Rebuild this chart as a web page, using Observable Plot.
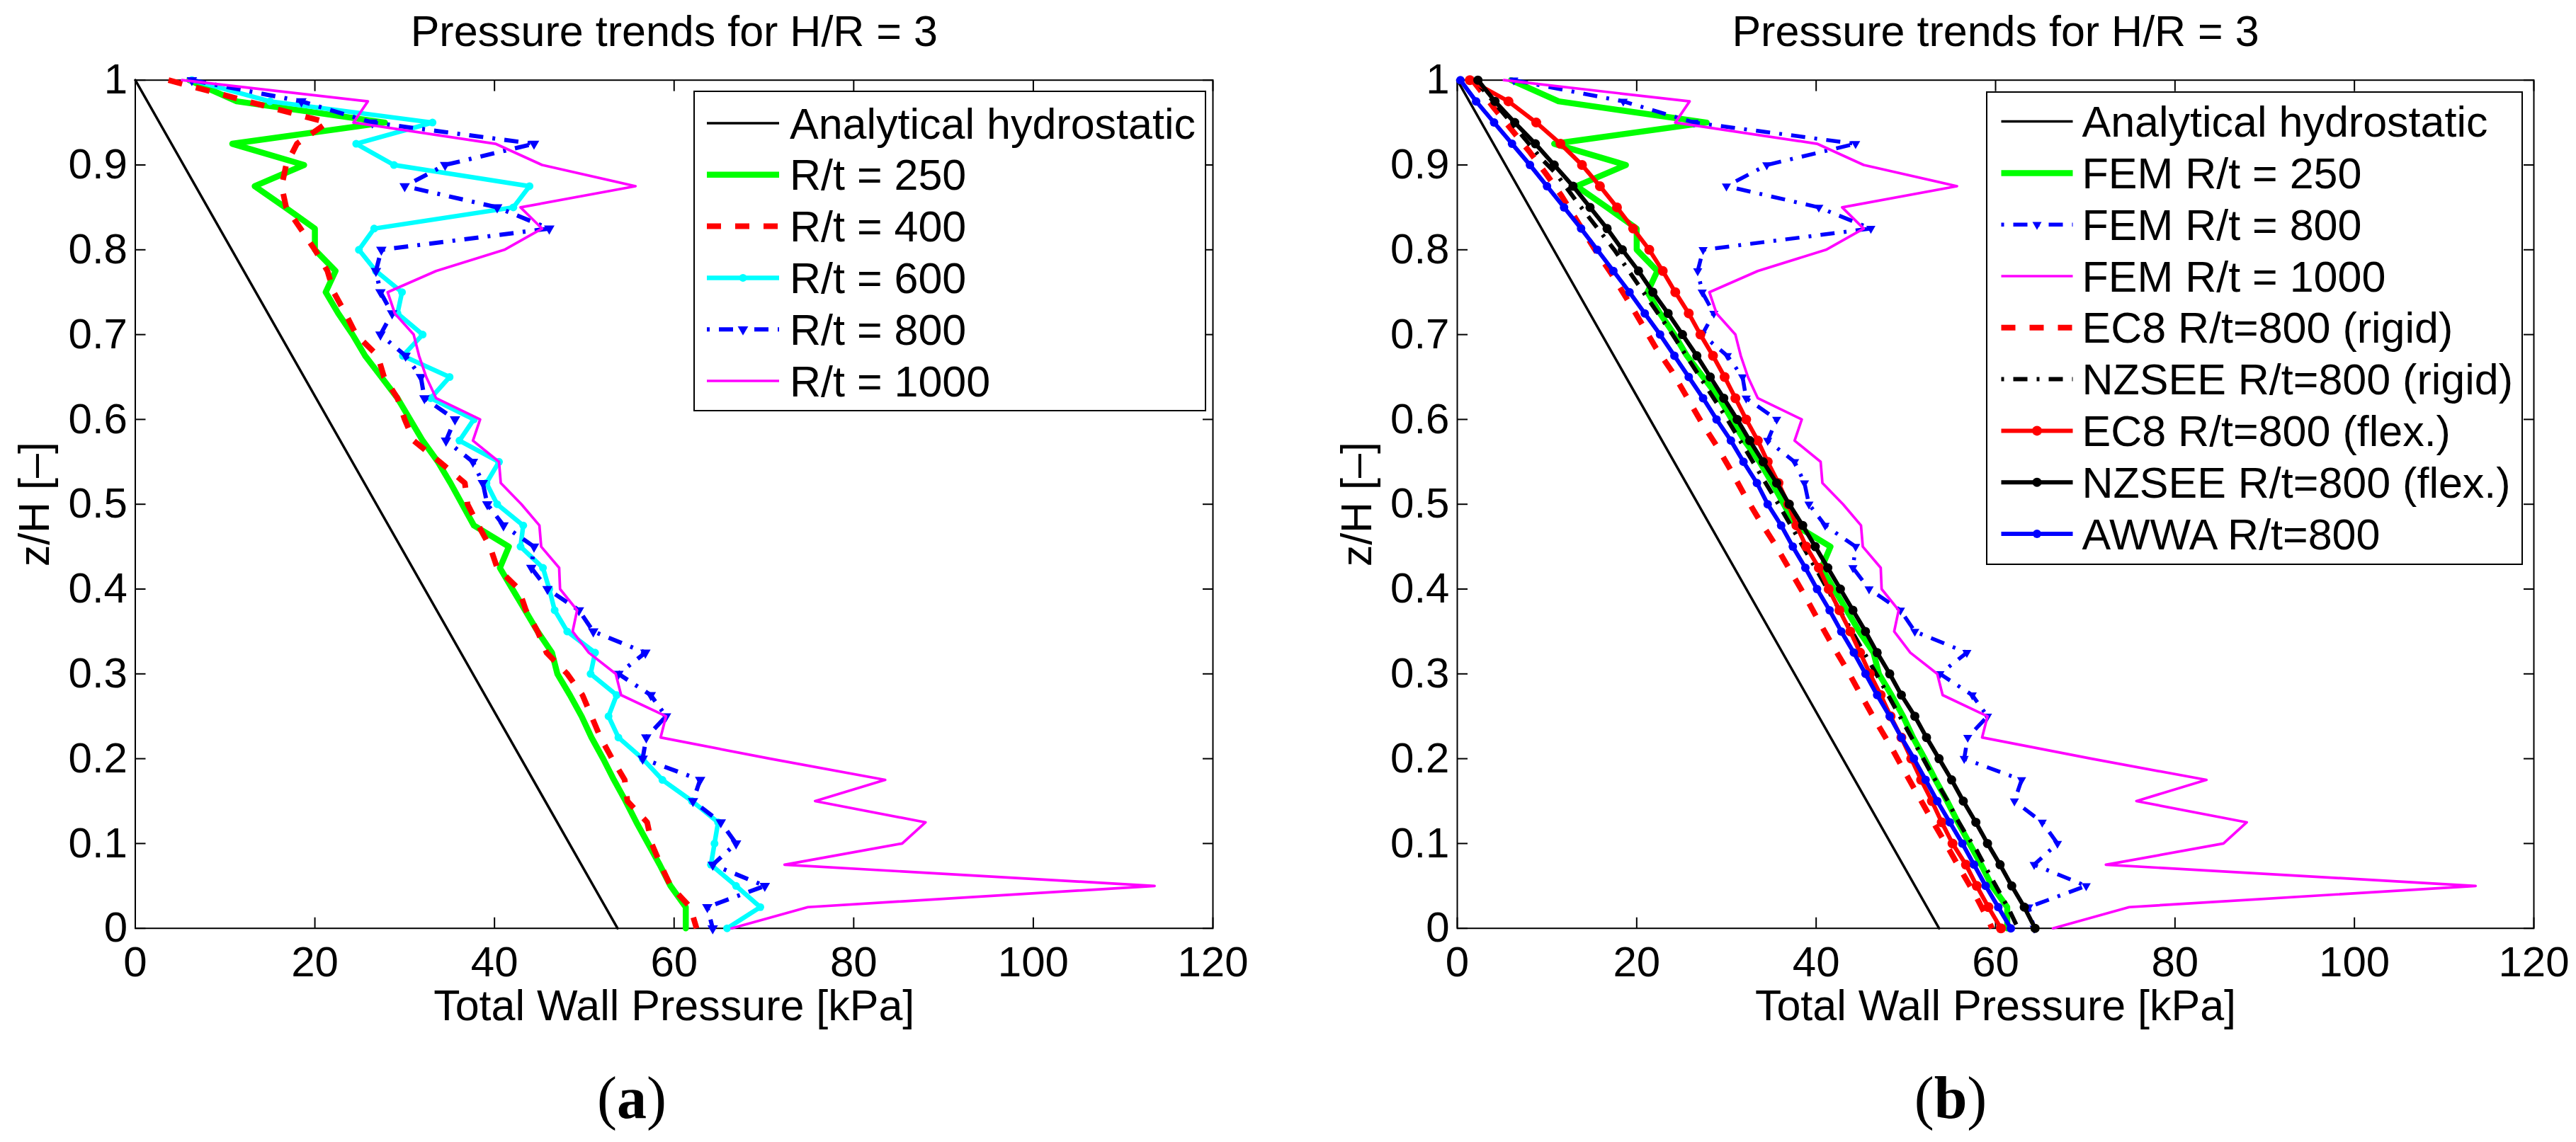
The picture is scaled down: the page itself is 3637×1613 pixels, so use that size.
<!DOCTYPE html>
<html><head><meta charset="utf-8">
<script src="https://cdn.jsdelivr.net/npm/d3@7"></script>
<script src="https://cdn.jsdelivr.net/npm/@observablehq/plot@0.6"></script>
<style>
html,body{margin:0;padding:0;background:#fff;}
#wrap{position:relative;width:3637px;height:1613px;overflow:hidden;background:#fff;}
#wrap svg{position:absolute;top:0;}
</style></head><body><div id="wrap"></div>
<script>
const FONT = '"Liberation Sans", Arial, Helvetica, sans-serif';
const SERIF = '"Liberation Serif", "Times New Roman", serif';

// ---- axes / ticks ----
const xTicks = [0, 20, 40, 60, 80, 100, 120];
const xTickLabels = ["0", "20", "40", "60", "80", "100", "120"];
const yTicks = [0, 0.1, 0.2, 0.3, 0.4, 0.5, 0.6, 0.7, 0.8, 0.9, 1];
const yTickLabels = ["0", "0.1", "0.2", "0.3", "0.4", "0.5", "0.6", "0.7", "0.8", "0.9", "1"];
const titleText = "Pressure trends for H/R = 3";
const xLabelText = "Total Wall Pressure [kPa]";
const yLabelText = "z/H [–]";

// ---- data: z/H levels (top to bottom) ----
const zLevels = [1, 0.975, 0.95, 0.925, 0.9, 0.875, 0.85, 0.825, 0.8, 0.775, 0.75, 0.725, 0.7, 0.675, 0.65, 0.625, 0.6, 0.575, 0.55, 0.525, 0.5,
  0.475, 0.45, 0.425, 0.4, 0.375, 0.35, 0.325, 0.3, 0.275, 0.25, 0.225, 0.2, 0.175, 0.15, 0.125, 0.1, 0.075, 0.05, 0.025, 0];

// analytical hydrostatic
const hydroZ = [1, 0];
const hydroP = [0, 53.7];

// FEM results (kPa) at zLevels
const fem250 = [6.0, 11.3, 27.8, 10.8, 18.8, 13.3, 16.7, 20.0, 20.0, 22.3, 21.2, 22.6, 24.2, 25.6, 27.4, 29.2, 30.6, 32.0, 33.7, 35.1, 36.4,
  37.7, 41.6, 40.6, 42.0, 43.4, 44.8, 46.4, 47.0, 48.4, 49.7, 50.8, 52.1, 53.3, 54.6, 55.8, 57.1, 58.4, 59.6, 61.3, 61.3];
const fem400 = [3.7, 12.5, 21.4, 18.0, 16.8, 16.3, 16.8, 18.4, 20.0, 21.4, 22.1, 23.4, 24.6, 27.0, 27.7, 29.2, 30.0, 31.0, 33.9, 36.7, 37.0,
  38.2, 39.5, 40.3, 42.7, 43.5, 44.8, 45.8, 48.1, 49.8, 50.8, 51.8, 53.1, 54.5, 54.8, 57.0, 57.5, 58.5, 59.6, 61.8, 62.5];
const fem600 = [6.3, 15.0, 33.1, 24.6, 28.8, 43.9, 42.1, 26.6, 24.9, 26.8, 29.7, 29.2, 32.0, 29.8, 35.0, 32.9, 37.7, 36.1, 40.5, 39.1, 40.3,
  43.2, 42.9, 45.4, 46.1, 46.7, 48.1, 51.2, 50.7, 53.6, 52.7, 53.8, 56.5, 58.7, 62.0, 64.9, 64.5, 64.1, 66.9, 69.6, 65.9];
const fem800 = [6.3, 18.5, 26.4, 44.4, 34.5, 30.0, 40.3, 46.1, 27.4, 26.8, 27.3, 28.6, 27.3, 30.1, 31.8, 32.2, 35.6, 34.6, 37.6, 38.7, 39.2,
  41.0, 44.4, 44.1, 45.9, 49.4, 51.0, 56.8, 53.8, 57.4, 59.1, 56.9, 56.5, 62.9, 62.1, 65.2, 66.9, 64.3, 70.1, 63.7, 64.3];
const fem1000 = [5.2, 25.9, 24.3, 40.1, 45.3, 55.7, 42.9, 45.3, 41.1, 33.5, 28.1, 28.9, 31.0, 31.6, 32.4, 33.5, 38.4, 37.6, 40.5, 40.7, 43.0,
  45.0, 45.2, 47.2, 47.3, 49.2, 48.7, 50.5, 53.5, 54.1, 59.1, 58.5, 70.7, 83.5, 75.7, 88.0, 85.4, 72.3, 113.5, 74.9, 66.4];

// code-based profiles for R/t = 800 (kPa)
const ec8FlexP = [1.4, 5.7, 8.8, 11.5, 13.9, 15.9, 17.8, 19.6, 21.4, 22.9, 24.3, 25.8, 27.1, 28.5, 29.8, 31.0, 32.2, 33.5, 34.6, 35.8, 36.9,
  37.8, 38.9, 40.3, 41.4, 42.6, 43.8, 44.9, 46.0, 47.2, 48.3, 49.5, 50.6, 51.7, 52.9, 54.0, 55.2, 56.7, 57.9, 59.2, 60.6];
const nzseeFlexP = [2.3, 4.2, 6.4, 8.7, 10.8, 12.9, 14.8, 16.7, 18.4, 20.2, 21.8, 23.5, 25.1, 26.7, 28.2, 29.7, 31.2, 32.6, 34.1, 35.6, 37.0,
  38.5, 39.9, 41.3, 42.7, 44.1, 45.5, 46.8, 48.2, 49.5, 51.0, 52.3, 53.7, 55.1, 56.4, 57.8, 59.1, 60.5, 61.8, 63.2, 64.4];
const awwaP = [0.35, 2.1, 4.1, 6.1, 8.1, 10.0, 11.9, 13.8, 15.6, 17.4, 19.2, 20.9, 22.6, 24.2, 25.8, 27.4, 28.9, 30.5, 31.9, 33.4, 34.6,
  36.1, 37.4, 38.8, 40.1, 41.5, 42.8, 44.2, 45.5, 46.8, 48.2, 49.5, 50.9, 52.2, 53.5, 54.9, 56.3, 57.6, 58.9, 60.3, 61.7];
const ec8RigidZ = [1, 0.989, 0.967, 0.941, 0.915, 0.888, 0.864, 0.801, 0.773, 0.744, 0.714, 0.685, 0.657, 0.628, 0.597, 0.569, 0.540, 0.511,
  0.481, 0.453, 0.422, 0.393, 0.364, 0.334, 0.304, 0.275, 0.245, 0.215, 0.186, 0.156, 0.126, 0.097, 0.069, 0.040, 0.0075, 0];
const ec8RigidP = [1.7, 2.5, 4.1, 6.1, 8.1, 10.0, 11.6, 15.3, 17.1, 18.8, 20.5, 22.1, 23.9, 25.5, 27.2, 28.9, 30.5, 32.0,
  33.7, 35.4, 37.1, 38.7, 40.2, 41.8, 43.5, 45.0, 46.6, 48.3, 49.8, 51.4, 53.0, 54.6, 56.1, 57.7, 59.3, 59.6];
const nzseeRigidZ = [1, 0.957, 0.94, 0.906, 0.89, 0.857, 0.8, 0.7, 0.6, 0.5, 0.4215, 0.2945, 0.1855, 0.1495, 0.1306, 0.1127, 0.0938, 0.0563, 0.0376, 0.02, 0];
const nzseeRigidP = [2.0, 5.45, 6.8, 9.5, 11.0, 13.3, 17.5, 24.0, 30.1, 35.8, 40.1, 47.0, 52.7, 54.7, 55.6, 56.6, 57.8, 59.7, 60.7, 61.6, 62.5];

// ---- helpers ----
const rows = (zs, ps) => zs.map((z, i) => ({z, p: ps[i]}));
const triDown = {
  draw(ctx, size) {
    const y = -Math.sqrt(size / (Math.sqrt(3) * 3));
    ctx.moveTo(0, -y * 2);
    ctx.lineTo(-Math.sqrt(3) * y, y);
    ctx.lineTo(Math.sqrt(3) * y, y);
    ctx.closePath();
  }
};

const S = {
  hydro: {stroke: "#000000", w: 3.5},
  g250: {stroke: "#00ff00", w: 8.5},
  r400: {stroke: "#ff0000", w: 8, dash: "20,20"},
  c600: {stroke: "#00ffff", w: 6.5, marker: "circle", r: 5.5},
  b800a: {stroke: "#0000ff", w: 6, dash: "20,13,4,13", marker: triDown, r: 5.5},
  b800b: {stroke: "#0000ff", w: 5.5, dash: "20,13,4,13", marker: triDown, r: 4.8},
  m1000: {stroke: "#ff00ff", w: 3.7},
  ec8R: {stroke: "#ff0000", w: 8, dash: "20,20"},
  nzR: {stroke: "#000000", w: 6, dash: "20,13,4,13"},
  ec8F: {stroke: "#ff0000", w: 6, marker: "circle", r: 7},
  nzF: {stroke: "#000000", w: 6, marker: "circle", r: 6.5},
  awwa: {stroke: "#0000ff", w: 6, marker: "circle", r: 6}
};

function series(data, st) {
  const m = [Plot.line(data, {x: "p", y: "z", stroke: st.stroke, strokeWidth: st.w,
    strokeDasharray: st.dash || null, strokeLinecap: st.dash ? "butt" : "round", strokeLinejoin: "round"})];
  if (st.marker) m.push(Plot.dot(data, {x: "p", y: "z", fill: st.stroke, r: st.r, symbol: st.marker}));
  return m;
}

function axes() {
  const tf = () => "";
  return [
    Plot.frame({stroke: "black", strokeWidth: 2}),
    Plot.axisX({anchor: "bottom", ticks: xTicks, tickSize: 15, dy: -15, tickFormat: tf, label: null, strokeWidth: 2}),
    Plot.axisX({anchor: "top", ticks: xTicks, tickSize: 15, dy: 15, tickFormat: tf, label: null, strokeWidth: 2}),
    Plot.axisY({anchor: "left", ticks: yTicks, tickSize: 15, dx: 15, tickFormat: tf, label: null, strokeWidth: 2}),
    Plot.axisY({anchor: "right", ticks: yTicks, tickSize: 15, dx: -15, tickFormat: tf, label: null, strokeWidth: 2}),
    Plot.axisX({anchor: "bottom", ticks: xTicks, tickSize: 0, tickPadding: 25, fontSize: 60, label: null,
      tickFormat: d => xTickLabels[xTicks.indexOf(d)]}),
    Plot.axisY({anchor: "left", ticks: yTicks, tickSize: 0, tickPadding: 11, fontSize: 60, label: null,
      tickFormat: d => yTickLabels[yTicks.indexOf(d)]}),
    Plot.text([titleText], {text: d => d, frameAnchor: "top", dy: -48.7, lineAnchor: "bottom", fontSize: 61, fill: "black"}),
    Plot.text([xLabelText], {text: d => d, frameAnchor: "bottom", dy: 129.3, lineAnchor: "bottom", fontSize: 61, fill: "black"}),
    Plot.text([yLabelText], {text: d => d, frameAnchor: "left", dx: -122, rotate: -90, lineAnchor: "bottom", textAnchor: "middle", fontSize: 61, fill: "black"})
  ];
}

function makePlot(width, ml, mr, marks) {
  return Plot.plot({
    width, height: 1613, marginLeft: ml, marginRight: mr, marginTop: 112.7, marginBottom: 302.3,
    x: {domain: [0, 120]}, y: {domain: [0, 1]},
    style: {fontFamily: FONT, background: "#fff", overflow: "visible"},
    marks
  });
}

function legend(svg, box, entries) {
  const g = d3.select(svg).append("g").attr("text-anchor", "start");
  g.append("rect").attr("x", box.x0).attr("y", box.y0).attr("width", box.x1 - box.x0).attr("height", box.y1 - box.y0)
    .attr("fill", "#fff").attr("stroke", "#000").attr("stroke-width", 2);
  entries.forEach((e, i) => {
    const y = box.row0 + i * box.step;
    const st = e.st;
    g.append("line").attr("x1", box.lx0).attr("x2", box.lx1).attr("y1", y).attr("y2", y)
      .attr("stroke", st.stroke).attr("stroke-width", st.w)
      .attr("stroke-dasharray", st.dash || null)
      .attr("stroke-dashoffset", st.dash && st.dash.split(",").length === 4 ? 33 : 0);
    if (st.marker) {
      const type = st.marker === "circle" ? d3.symbolCircle : st.marker;
      g.append("path").attr("d", d3.symbol(type, st.r * st.r * Math.PI)())
        .attr("transform", `translate(${(box.lx0 + box.lx1) / 2},${y})`).attr("fill", st.stroke);
    }
    g.append("text").attr("x", box.tx).attr("y", y + 21.5).attr("text-anchor", "start")
      .attr("font-family", FONT).attr("font-size", 61).attr("fill", "#000").text(e.label);
  });
}

function caption(svg, cx, letter) {
  const t = d3.select(svg).append("text").attr("x", cx).attr("y", 1579).attr("text-anchor", "middle")
    .attr("font-family", SERIF).attr("font-size", 84).attr("fill", "#000");
  t.append("tspan").text("(");
  t.append("tspan").attr("font-weight", "bold").text(letter);
  t.append("tspan").text(")");
}

const wrap = document.getElementById("wrap");

// ---- panel (a) ----
const marksA = [
  ...axes(),
  ...series(rows(hydroZ, hydroP), S.hydro),
  ...series(rows(zLevels, fem250), S.g250),
  ...series(rows(zLevels, fem400), S.r400),
  ...series(rows(zLevels, fem600), S.c600),
  ...series(rows(zLevels, fem800), S.b800a),
  ...series(rows(zLevels, fem1000), S.m1000)
];
const svgA = makePlot(1818, 190.5, 106, marksA);
svgA.style.left = "0px";
wrap.appendChild(svgA);
legend(svgA, {x0: 980, x1: 1702, y0: 129, y1: 580, row0: 174, step: 72.8, lx0: 998, lx1: 1100, tx: 1115}, [
  {label: "Analytical hydrostatic", st: S.hydro},
  {label: "R/t = 250", st: S.g250},
  {label: "R/t = 400", st: S.r400},
  {label: "R/t = 600", st: S.c600},
  {label: "R/t = 800", st: S.b800a},
  {label: "R/t = 1000", st: S.m1000}
]);
caption(svgA, 892, "a");

// ---- panel (b) ----
const marksB = [
  ...axes(),
  ...series(rows(hydroZ, hydroP), S.hydro),
  ...series(rows(zLevels, fem250), S.g250),
  ...series(rows(zLevels, fem800), S.b800b),
  ...series(rows(zLevels, fem1000), S.m1000),
  ...series(rows(ec8RigidZ, ec8RigidP), S.ec8R),
  ...series(rows(nzseeRigidZ, nzseeRigidP), S.nzR),
  ...series(rows(zLevels, ec8FlexP), S.ec8F),
  ...series(rows(zLevels, nzseeFlexP), S.nzF),
  ...series(rows(zLevels, awwaP), S.awwa)
];
const svgB = makePlot(1819, 239, 60, marksB);
svgB.style.left = "1818px";
wrap.appendChild(svgB);
legend(svgB, {x0: 987, x1: 1743, y0: 130, y1: 797, row0: 171.6, step: 72.8, lx0: 1007.5, lx1: 1108.5, tx: 1121.5}, [
  {label: "Analytical hydrostatic", st: S.hydro},
  {label: "FEM R/t = 250", st: S.g250},
  {label: "FEM R/t = 800", st: S.b800b},
  {label: "FEM R/t = 1000", st: S.m1000},
  {label: "EC8 R/t=800 (rigid)", st: S.ec8R},
  {label: "NZSEE R/t=800 (rigid)", st: S.nzR},
  {label: "EC8 R/t=800 (flex.)", st: S.ec8F},
  {label: "NZSEE R/t=800 (flex.)", st: S.nzF},
  {label: "AWWA R/t=800", st: S.awwa}
]);
caption(svgB, 936, "b");
</script></body></html>
